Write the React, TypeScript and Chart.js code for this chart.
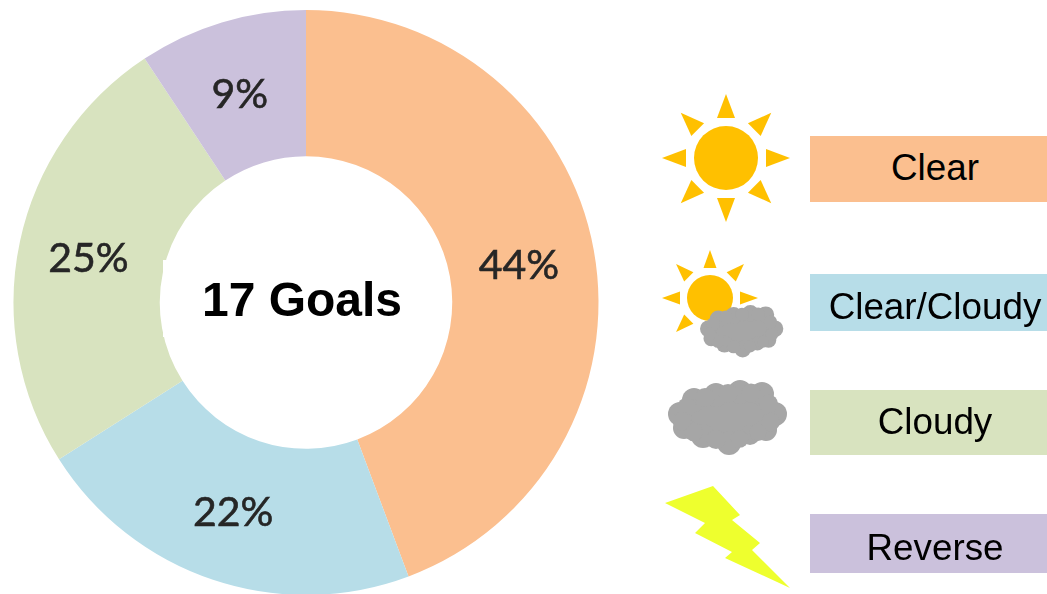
import React, { useEffect, useRef } from "react";
import { Chart, registerables } from "chart.js";

Chart.register(...registerables);

const categories = ["Clear", "Clear/Cloudy", "Cloudy", "Reverse"];
const shares = [44.3, 21.7, 24.7, 9.3];
const sliceColors = ["#FBBF8F", "#B7DDE8", "#D8E3BF", "#CBC1DC"];
const centerLabel = "17 Goals";

const legendBoxes = [
  { top: 136, height: 66, textY: 168 },
  { top: 274, height: 57, textY: 307 },
  { top: 390, height: 65, textY: 422 },
  { top: 514, height: 59, textY: 548 },
];

const rayAngles = [0, 45, 90, 135, 180, 225, 270, 315];
const cloudBumps = [
  [680, 414, 12], [694, 400, 12], [716, 395, 12], [740, 392, 12], [762, 394, 12],
  [775, 414, 12], [766, 430, 11], [750, 435, 10], [729, 443, 12], [703, 436, 12], [684, 428, 11],
];
const boltPoints = "665,503 713,486 740,515 732,520 760,543 752,550 790,588 725,558 732,552 695,533 705,523";

const labelsPlugin = {
  id: "sliceLabels",
  afterDatasetsDraw(chart: any) {
    const { ctx } = chart;
    const arcs = chart.getDatasetMeta(0).data;
    ctx.save();
    ctx.textAlign = "center";
    ctx.textBaseline = "middle";
    ctx.fillStyle = "#262626";
    ctx.strokeStyle = "#262626";
    ctx.lineWidth = 0.6;
    ctx.font = "41px Lato";
    arcs.forEach((arc: any, i: number) => {
      const p = arc.getCenterPoint();
      const text = Math.round(shares[i]) + "%";
      ctx.fillText(text, p.x - 3, p.y + 2.5);
      ctx.strokeText(text, p.x - 3, p.y + 2.5);
    });
    ctx.fillStyle = "#fff";
    ctx.fillRect(163, 260, 270, 77);
    ctx.fillStyle = "#000";
    ctx.textBaseline = "alphabetic";
    ctx.font = "bold 48px 'Liberation Sans'";
    ctx.fillText(centerLabel, 302, 316);
    ctx.restore();
  },
};

function Sun({ cx, cy, r, tip, base, half }: any) {
  return (
    <g transform={`translate(${cx} ${cy})`} fill="#FFC000">
      <circle r={r} />
      {rayAngles.map((a) => (
        <polygon key={a} transform={`rotate(${a})`} points={`0,${-tip} ${-half},${-base} ${half},${-base}`} />
      ))}
    </g>
  );
}

function Cloud({ transform }: any) {
  const fillers = cloudBumps.map(([x, y, r], i) => {
    const [nx, ny, nr] = cloudBumps[(i + 1) % cloudBumps.length];
    return [(x + nx) / 2, (y + ny) / 2, ((r + nr) / 2) * 0.8];
  });
  return (
    <g transform={transform} fill="#A6A6A6">
      <polygon points={cloudBumps.map(([x, y]) => `${x},${y}`).join(" ")} />
      {[...cloudBumps, ...fillers].map(([x, y, r], i) => (
        <circle key={i} cx={x} cy={y} r={r} />
      ))}
    </g>
  );
}

export default function App() {
  const ref = useRef<HTMLCanvasElement>(null);
  useEffect(() => {
    const chart = new Chart(ref.current!, {
      type: "doughnut",
      data: {
        labels: categories,
        datasets: [{ data: shares, backgroundColor: sliceColors, borderWidth: 0 }],
      },
      options: {
        responsive: false,
        animation: false,
        cutout: "50%",
        layout: { padding: { left: 13, right: 448, top: 10, bottom: 11 } },
        plugins: { legend: { display: false }, tooltip: { enabled: false } },
      },
      plugins: [labelsPlugin],
    });
    return () => chart.destroy();
  }, []);

  return (
    <div style={{ position: "absolute", left: 0, top: 0, width: 1047, height: 594, overflow: "hidden", background: "#fff" }}>
      <canvas ref={ref} width={1047} height={606} style={{ position: "absolute", left: 0, top: 0 }} />
      <svg width={1047} height={594} style={{ position: "absolute", left: 0, top: 0 }}>
        <Sun cx={726} cy={158} r={32} tip={64} base={40} half={9} />
        <Sun cx={710} cy={298} r={23} tip={48} base={30} half={6.5} />
        <Cloud transform="translate(700 305) scale(0.7) translate(-668 -380)" />
        <Cloud />
        <polygon points={boltPoints} fill="#EEFF2E" />
      </svg>
      {categories.map((c, i) => (
        <React.Fragment key={c}>
          <div style={{ position: "absolute", left: 810, width: 237, top: legendBoxes[i].top, height: legendBoxes[i].height, background: sliceColors[i] }} />
          <div
            style={{
              position: "absolute", left: 810, width: 250, textAlign: "center",
              top: legendBoxes[i].textY - 25, height: 50,
              font: "36.8px/50px 'Liberation Sans'", color: "#000",
            }}
          >
            {c}
          </div>
        </React.Fragment>
      ))}
    </div>
  );
}
